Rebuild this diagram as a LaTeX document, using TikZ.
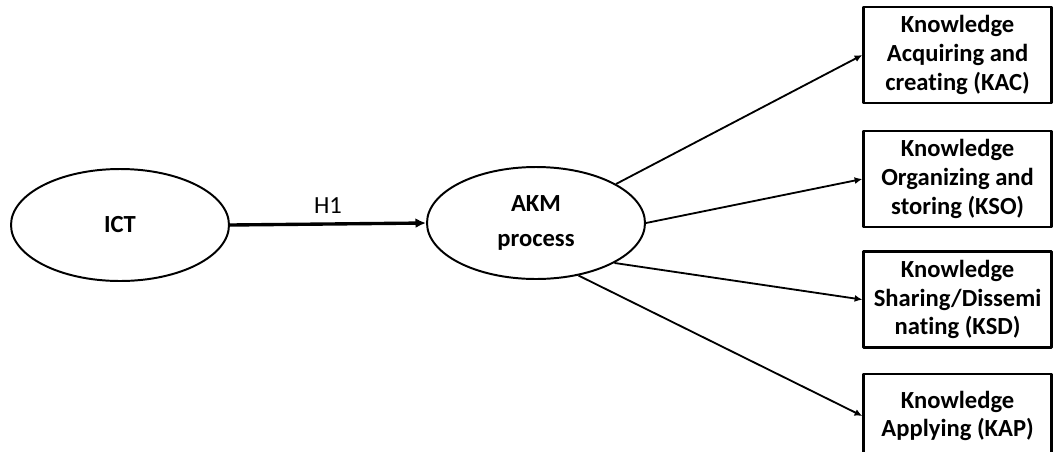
\documentclass[tikz,border=0pt]{standalone}
\usepackage{fontspec}
\setmainfont{Carlito}[Ligatures=NoCommon]
\usetikzlibrary{shapes.geometric, arrows.meta, positioning}
\tikzset{
    model/.style={>={Latex[length=5.5pt, width=5pt]}, line join=round,
                  font=\bfseries\fontsize{17.5}{20.5}\selectfont},
    construct/.style={draw=black, line width=1.4pt, ellipse, inner sep=0pt,
                      minimum width=5.45cm, minimum height=2.8cm, align=center},
    dimension/.style={draw=black, line width=1.8pt, rectangle, inner sep=2pt,
                      minimum width=4.7cm, minimum height=2.4cm, align=center},
    link/.style={->, line width=1.3pt, draw=black},
    hyplink/.style={->, line width=2.4pt, draw=black,
                    >={Latex[length=7.5pt, width=7pt]}},
    hyplabel/.style={font=\mdseries\fontsize{17.5}{20.5}\selectfont,
                     inner sep=0pt, above=6pt, midway},
}

\begin{document}
\begin{tikzpicture}[model]

\useasboundingbox (0,0) rectangle (26.325,-11.275);

% ─── Constructs ─────────────────────────────────────────────────────────
\node[construct] (ict) at (3.0,-5.625)  {ICT};
\node[construct] (akm) at (13.4,-5.575) {AKM\\[4pt]process};

% ─── Dimensions ─────────────────────────────────────────────────────────
\node[dimension] (kac) at (23.94,-1.375) {Knowledge\\Acquiring and\\creating (KAC)};
\node[dimension] (kso) at (23.94,-4.475) {Knowledge\\Organizing and\\storing (KSO)};
\node[dimension] (ksd) at (23.94,-7.49)  {Knowledge\\Sharing/Dissemi\\nating (KSD)};
\node[dimension, minimum height=2.1cm] (kap) at (23.94,-10.4) {Knowledge\\Applying (KAP)};

% ─── Hypothesis ─────────────────────────────────────────────────────────
\draw[hyplink] (ict.east) -- node[hyplabel] {H1} (akm.west);

% ─── Links to dimensions ────────────────────────────────────────────────
\draw[link] (akm.26)   -- (kac.west);
\draw[link] (akm.east) -- (kso.west);
\draw[link] (akm.-27)  -- (ksd.west);
\draw[link] (akm.-51)  -- (kap.west);

\end{tikzpicture}
\end{document}
